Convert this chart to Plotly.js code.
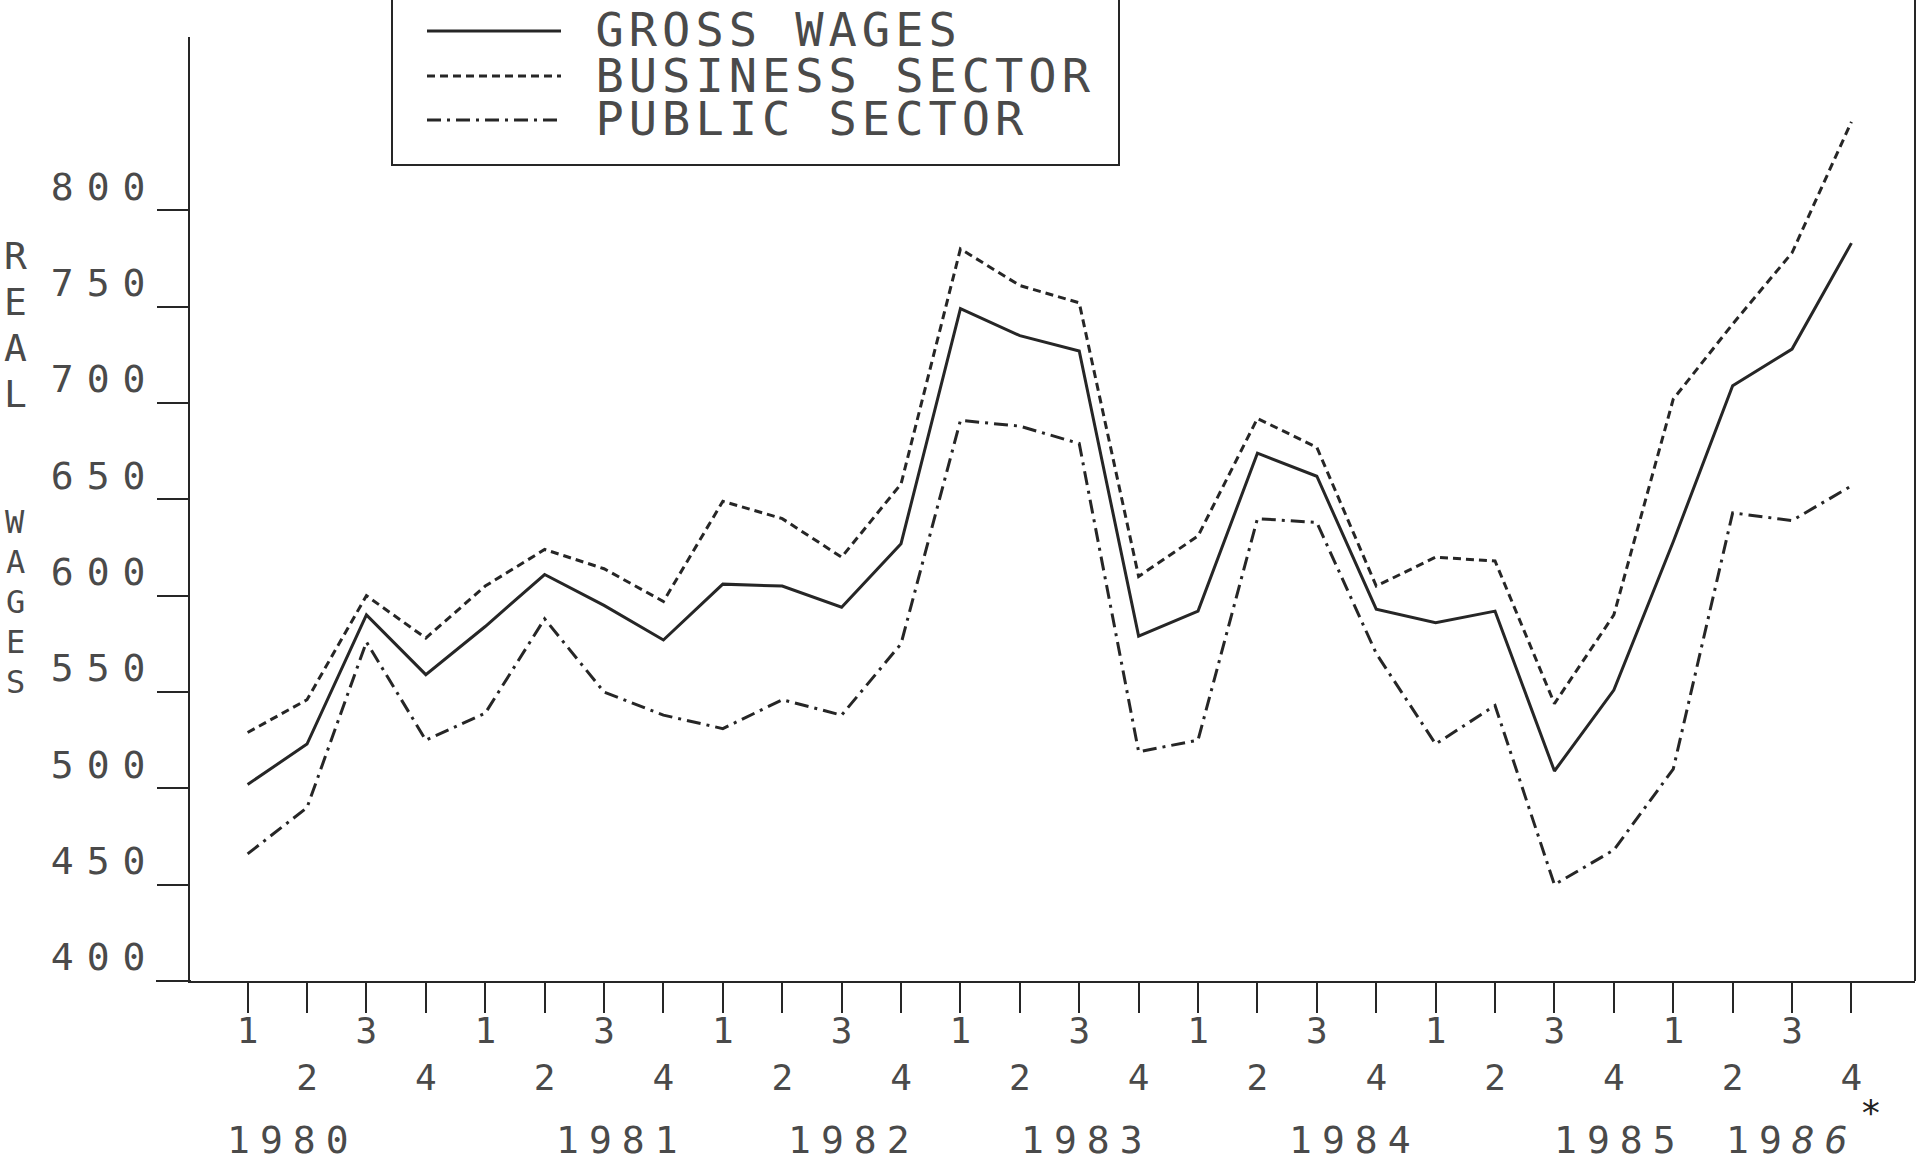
<!DOCTYPE html>
<html>
<head>
<meta charset="utf-8">
<script src="https://cdn.plot.ly/plotly-3.0.1.min.js"></script>
<style>
  html, body { margin: 0; padding: 0; background: #ffffff; overflow: hidden; }
  #chart { width: 1922px; height: 1162px; }
  #chart g.ytick text { letter-spacing: 13px; }
</style>
</head>
<body>
<div id="chart"></div>
<script>
// ---------------- DATA ----------------
const years = ['1980', '1981', '1982', '1983', '1984', '1985', '1986'];
const quarters = ['1', '2', '3', '4'];
const seriesNames = ['GROSS WAGES', 'BUSINESS SECTOR', 'PUBLIC SECTOR'];
const yAxisTitle = 'REAL WAGES';

const grossWages = [502, 523, 590, 559, 584, 611, 595, 577, 606, 605, 594, 627,
                    749, 735, 727, 579, 592, 674, 662, 593, 586, 592, 509, 551,
                    628, 709, 728, 783];
const businessSector = [529, 546, 600, 578, 605, 624, 614, 597, 649, 640, 620, 658,
                        780, 761, 752, 610, 631, 692, 677, 605, 620, 618, 544, 590,
                        702, 741, 778, 846];
const publicSector = [466, 490, 576, 525, 539, 588, 550, 538, 531, 546, 538, 575,
                      691, 688, 679, 519, 525, 640, 638, 570, 523, 543, 450, 468,
                      510, 643, 639, 657];

const yTickValues = [400, 450, 500, 550, 600, 650, 700, 750, 800];
const yearTickText = ['1980', '1981', '1982', '1983', '1984', '1985', '19<i>86</i>'];

// ---------------- GEOMETRY / STYLE ----------------
const W = 1922, H = 1162;
const M = { l: 190, r: 7, t: 37, b: 181 };
const PW = W - M.l - M.r, PH = H - M.t - M.b;
const px = x => (x - M.l) / PW;           // page px -> paper x
const py = y => (H - M.b - y) / PH;       // page px -> paper y

const INK = '#262626';
const TXT = '#4a4a4a';
const MONO = '"DejaVu Sans Mono", "Liberation Mono", monospace';

// category labels for each quarter
const periods = [];
years.forEach(y => quarters.forEach(q => periods.push(y + ' Q' + q)));
const quarterTickText = periods.map(p => {
  const q = p.slice(-1);
  return (q === '2' || q === '4') ? ' <br>' + q : q;
});
const yTickText = yTickValues.map(v => String(v));

const dashes = ['solid', '8px,5px', '14px,6px,3px,6px'];
const seriesValues = [grossWages, businessSector, publicSector];

const traces = seriesValues.map((vals, i) => ({
  type: 'scatter',
  mode: 'lines',
  name: seriesNames[i],
  x: periods,
  y: vals,
  line: { color: INK, width: 3, dash: dashes[i] },
  hoverinfo: 'skip'
}));

// year label positions along the category axis (as printed, not aligned to ticks)
const yearPositions = [0.76, 6.3, 10.2, 14.13, 18.64, 23.11, 26.0];

const annotations = [];
const cssRules = [];
yearTickText.forEach((t, i) => {
  cssRules.push(`#chart g.annotation[data-index="${annotations.length}"] text { letter-spacing: 10px; }`);
  annotations.push({
    xref: 'x', yref: 'paper', x: yearPositions[i], y: py(1140),
    text: t, showarrow: false, xanchor: 'center', yanchor: 'middle',
    font: { family: MONO, size: 38, color: TXT }
  });
});
annotations.push({
  xref: 'x', yref: 'paper', x: 27.33, y: py(1112),
  text: '*', showarrow: false, xanchor: 'center', yanchor: 'middle',
  font: { family: MONO, size: 36, color: '#222' }
});

// legend text
const legendRowsY = [29, 76, 119];
const legendSpacing = 5;
seriesNames.forEach((n, i) => {
  cssRules.push(`#chart g.annotation[data-index="${annotations.length}"] text { letter-spacing: ${legendSpacing}px; }`);
  annotations.push({
    xref: 'paper', yref: 'paper', x: px(593 + n.length * legendSpacing / 2), y: py(legendRowsY[i]),
    text: n, showarrow: false, xanchor: 'left', yanchor: 'middle',
    font: { family: MONO, size: 47, color: TXT }
  });
});

// vertical axis title, stacked letters
const titleWords = yAxisTitle.split(' ');
const realY = [256, 302, 348, 394];
titleWords[0].split('').forEach((c, i) => annotations.push({
  xref: 'paper', yref: 'paper', x: px(15), y: py(realY[i]),
  text: c, showarrow: false, xanchor: 'center', yanchor: 'middle',
  font: { family: MONO, size: 38, color: TXT }
}));
const wagesY = [522, 562, 602, 642, 682];
titleWords[1].split('').forEach((c, i) => annotations.push({
  xref: 'paper', yref: 'paper', x: px(15), y: py(wagesY[i]),
  text: c, showarrow: false, xanchor: 'center', yanchor: 'middle',
  font: { family: MONO, size: 32, color: TXT }
}));

const styleEl = document.createElement('style');
styleEl.textContent = cssRules.join('\n');
document.head.appendChild(styleEl);

const shapes = [
  // legend box
  { type: 'rect', xref: 'paper', yref: 'paper', x0: px(392), x1: px(1119), y0: py(165), y1: py(-10),
    line: { color: INK, width: 2 }, fillcolor: 'rgba(0,0,0,0)' },
  // right frame line
  { type: 'line', xref: 'paper', yref: 'paper', x0: px(1915), x1: px(1915), y0: py(981), y1: py(-5),
    line: { color: INK, width: 2 } },
  // x-axis line extension to the left of the y axis
  { type: 'line', xref: 'paper', yref: 'paper', x0: px(156), x1: px(191), y0: 0, y1: 0,
    line: { color: INK, width: 2 } }
];
// legend line samples
const sampleRowsY = [31, 76, 120];
dashes.forEach((d, i) => shapes.push({
  type: 'line', xref: 'paper', yref: 'paper', x0: px(427), x1: px(561),
  y0: py(sampleRowsY[i]), y1: py(sampleRowsY[i]),
  line: { color: INK, width: 3, dash: d }
}));

const layout = {
  width: W, height: H,
  margin: { l: M.l, r: M.r, t: M.t, b: M.b, pad: 0 },
  paper_bgcolor: '#ffffff', plot_bgcolor: '#ffffff',
  showlegend: false,
  hovermode: false,
  xaxis: {
    type: 'category',
    range: [-0.97, 28.07],
    tickmode: 'array', tickvals: periods, ticktext: quarterTickText,
    ticks: 'outside', ticklen: 30, tickwidth: 2, tickcolor: INK,
    showline: true, linecolor: INK, linewidth: 2,
    showgrid: false, zeroline: false,
    tickfont: { family: MONO, size: 36, color: TXT },
    ticklabelstandoff: -13
  },
  yaxis: {
    range: [400, 890],
    tickmode: 'array', tickvals: yTickValues, ticktext: yTickText,
    ticks: 'outside', ticklen: 31, tickwidth: 2, tickcolor: INK,
    showline: true, linecolor: INK, linewidth: 2,
    showgrid: false, zeroline: false,
    tickfont: { family: MONO, size: 38, color: TXT },
    ticklabelstandoff: -9,
    ticklabelshift: -24
  },
  annotations: annotations,
  shapes: shapes
};

Plotly.newPlot('chart', traces, layout, { staticPlot: true, displayModeBar: false });
</script>
</body>
</html>
